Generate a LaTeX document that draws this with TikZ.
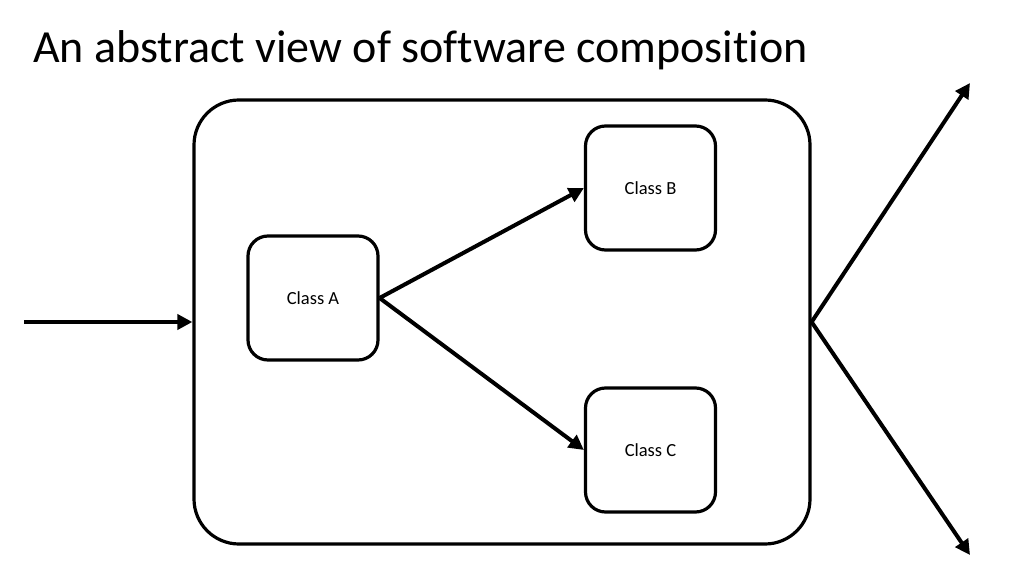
\documentclass[tikz,border=0pt]{standalone}
\usepackage{fontspec}
\setmainfont{Carlito}[Ligatures=NoCommon]
\usetikzlibrary{shapes,arrows.meta}
\tikzstyle{cls} = [rectangle, rounded corners=20pt, minimum width=130pt, minimum height=124pt, text centered, draw=black, line width=3.2pt, font=\fontsize{18.5}{20}\selectfont]
\tikzstyle{link} = [line width=4pt, -{Triangle[length=15pt,width=15pt]}]

\begin{document}
\begin{tikzpicture}[x=1pt,y=1pt]
		\useasboundingbox (0,0) rectangle (1024,576);
		\node[anchor=base west,inner sep=0pt,font=\fontsize{46}{50}\selectfont](title) at (33,513){An abstract view of software composition};
		\node[rectangle, rounded corners=45pt, minimum width=616pt, minimum height=444pt, draw=black, line width=3.2pt](sys) at (502,254){};
		\node[cls](a) at (313,278){Class A};
		\node[cls](b) at (650.5,388){Class B};
		\node[cls](c) at (650.5,126){Class C};
		\coordinate (in) at (24,254);
		\coordinate (up) at (970,493);
		\coordinate (down) at (970,21);
		
		\draw[link] (in)--(sys.west);
		\draw[link] (a.east)--(b.west);
		\draw[link] (a.east)--(c.west);
		\draw[link] (sys.east)--(up);
		\draw[link] (sys.east)--(down);
		\end{tikzpicture}
\end{document}
